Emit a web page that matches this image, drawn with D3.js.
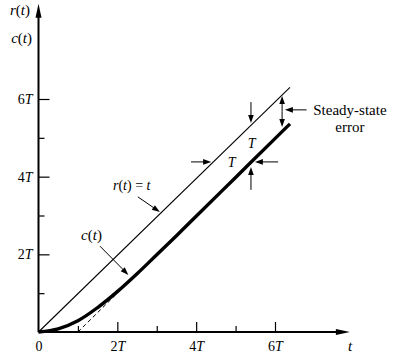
<!DOCTYPE html>
<html><head><meta charset="utf-8">
<script src="https://cdn.jsdelivr.net/npm/d3@7"></script>
<style>
html,body{margin:0;padding:0;background:#fff;}
svg{display:block;font-family:"Liberation Serif","Times New Roman",serif;}
</style></head><body>
<svg id="chart" width="393" height="357"></svg>
<script>
// ---- data (in units of T) ----
const xTickValues = [0, 1, 2, 3, 4, 5, 6];
const xTickLabels = ["0", "", "2T", "", "4T", "", "6T"];
const yTickValues = [1, 2, 3, 4, 5, 6];
const yTickLabels = ["", "2T", "", "4T", "", "6T"];
const rampT = [0, 6.38];
const rampR = [0, 6.3];
const respT = [0, 0.5, 1, 1.5, 2, 2.5, 3, 3.5, 4, 5, 6, 6.38];
const respC = [0, 0.08, 0.29, 0.63, 1.04, 1.5, 1.99, 2.48, 2.98, 3.98, 4.98, 5.36];
const asymT = [1, 1.95];
const asymC = [0, 0.95];
const xAxisEnd = 7.9;
const yAxisEnd = 8.45;

// ---- annotation arrows: [t1, v1, t2(tip), v2(tip)] ----
const arrowsAnn = [
  [2.52, 3.48, 3.08, 3.09],  // r(t)=t pointer
  [1.56, 2.21, 2.28, 1.47],  // c(t) pointer
  [5.39, 5.92, 5.39, 5.38],  // down to r
  [3.87, 4.38, 4.38, 4.38],  // right to r
  [6.08, 4.38, 5.49, 4.38],  // left to c
  [5.39, 3.66, 5.39, 4.25],  // up to c
  [6.18, 5.68, 6.18, 6.08],  // ss up
  [6.18, 5.68, 6.18, 5.28],  // ss down
  [6.80, 5.72, 6.25, 5.72]   // ss pointer
];

const FONT = "Liberation Serif";
const svg = d3.select("#chart");
svg.append("rect").attr("width", 393).attr("height", 357).attr("fill", "#fff");

const x = d3.scaleLinear().domain([0, 6]).range([38.5, 275]);
const y = d3.scaleLinear().domain([0, 6]).range([332, 99]);

const FS = 14;

function richText(sel, label) {
  sel.text(null);
  if (!label) return;
  const m = label.match(/^(\d*)(T?)$/);
  if (m && m[2]) {
    sel.append("tspan").text(m[1]);
    sel.append("tspan").attr("font-style", "italic").text("T");
  } else {
    sel.text(label);
  }
}

// x axis (ticks inside, pointing up)
const gx = svg.append("g").attr("transform", `translate(0,${y(0)})`)
  .call(d3.axisBottom(x).tickValues(xTickValues).tickSize(-10).tickPadding(9)
    .tickFormat((d, i) => xTickLabels[i]));
gx.attr("font-family", FONT);
gx.select(".domain").remove();
gx.selectAll(".tick line").attr("stroke", "#000").attr("stroke-width", 1.2)
  .attr("y2", (d) => (d % 2 === 0 ? -10 : -6))
  .attr("opacity", d => d === 0 ? 0 : 1);
gx.selectAll(".tick text").attr("font-size", FS).attr("fill", "#000")
  .attr("font-family", FONT)
  .each(function (d, i) { richText(d3.select(this), xTickLabels[i]); });

// y axis (ticks to the right)
const gy = svg.append("g").attr("transform", `translate(${x(0)},0)`)
  .call(d3.axisLeft(y).tickValues(yTickValues).tickSize(-11).tickPadding(6)
    .tickFormat((d, i) => yTickLabels[i]));
gy.attr("font-family", FONT);
gy.select(".domain").remove();
gy.selectAll(".tick line").attr("stroke", "#000").attr("stroke-width", 1.2)
  .attr("x2", (d) => (d % 2 === 0 ? 11 : 6));
gy.selectAll(".tick text").attr("font-size", FS).attr("fill", "#000")
  .attr("font-family", FONT)
  .each(function (d, i) { richText(d3.select(this), yTickLabels[i]); });

// arrow helper
function arrow(x1, y1, x2, y2, len, hw, sw) {
  const dx = x2 - x1, dy = y2 - y1, L = Math.hypot(dx, dy);
  const ux = dx / L, uy = dy / L;
  const bx = x2 - ux * len, by = y2 - uy * len;
  svg.append("line").attr("x1", x1).attr("y1", y1).attr("x2", bx + ux).attr("y2", by + uy)
    .attr("stroke", "#000").attr("stroke-width", sw);
  svg.append("path")
    .attr("d", `M${x2},${y2}L${bx - uy * hw},${by + ux * hw}L${bx + uy * hw},${by - ux * hw}Z`)
    .attr("fill", "#000");
}

// axis lines with arrowheads
arrow(x(0), y(0), x(xAxisEnd), y(0), 14, 3, 2);
arrow(x(0), y(0), x(0), y(yAxisEnd), 14, 3, 2);

// r(t) = t
svg.append("path")
  .datum(rampT.map((t, i) => [t, rampR[i]]))
  .attr("d", d3.line().x(d => x(d[0])).y(d => y(d[1])))
  .attr("fill", "none").attr("stroke", "#000").attr("stroke-width", 1.1);

// dashed asymptote
svg.append("path")
  .datum(asymT.map((t, i) => [t, asymC[i]]))
  .attr("d", d3.line().x(d => x(d[0])).y(d => y(d[1])))
  .attr("fill", "none").attr("stroke", "#000").attr("stroke-width", 1)
  .attr("stroke-dasharray", "4,3");

// c(t)
svg.append("path")
  .datum(respT.map((t, i) => [t, respC[i]]))
  .attr("d", d3.line().curve(d3.curveCatmullRom.alpha(0.5)).x(d => x(d[0])).y(d => y(d[1])))
  .attr("fill", "none").attr("stroke", "#000").attr("stroke-width", 3.4)
  .attr("stroke-linecap", "butt");

// annotation arrows
arrowsAnn.forEach(a => arrow(x(a[0]), y(a[1]), x(a[2]), y(a[3]), 8, 2.8, 1));

// texts
function label(px, py, parts, anchor, size) {
  const t = svg.append("text").attr("x", px).attr("y", py)
    .attr("font-family", FONT)
    .attr("text-anchor", anchor || "start").attr("font-size", size || FS).attr("fill", "#000");
  parts.forEach(p => t.append("tspan").attr("font-style", p[1] ? "italic" : "normal").text(p[0]));
  return t;
}
// axis titles
label(30, 15, [["r", 1], ["(", 0], ["t", 1], [")", 0]], "end", 15);
label(32, 43, [["c", 1], ["(", 0], ["t", 1], [")", 0]], "end", 15);
label(x(xAxisEnd) - 2, 351, [["t", 1]], "start", 15);

label(x(1.89), y(3.66), [["r", 1], ["(", 0], ["t", 1], [") = ", 0], ["t", 1]], "start");
label(x(1.08), y(2.37), [["c", 1], ["(", 0], ["t", 1], [")", 0]], "start", 15);
label(x(5.41), y(4.74), [["T", 1]], "middle");
label(x(4.90), y(4.25), [["T", 1]], "middle");
label(x(7.9), y(5.59), [["Steady-state", 0]], "middle", 15);
label(x(7.9), y(5.16), [["error", 0]], "middle", 15);
</script>
</body></html>
